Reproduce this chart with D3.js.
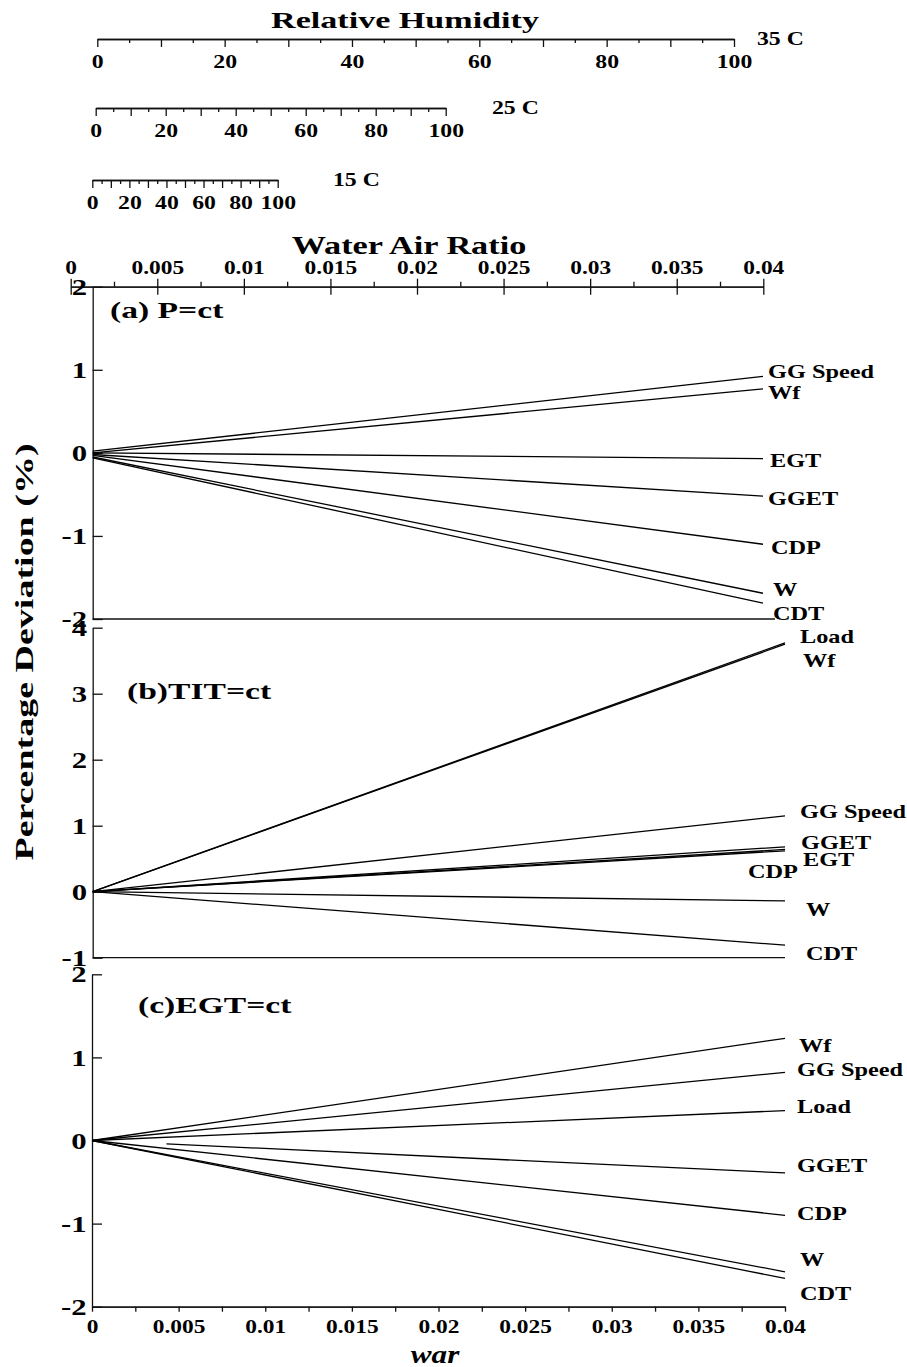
<!DOCTYPE html>
<html>
<head>
<meta charset="utf-8">
<script src="https://cdn.jsdelivr.net/npm/d3@7"></script>
<style>
body { margin: 0; background: #fff; }
svg text { font-family: "Liberation Serif", "Times New Roman", serif; font-weight: bold; fill: #000; }
</style>
</head>
<body>
<svg></svg>
<script>
// ---- data ----
const warTicks = [0, 0.005, 0.01, 0.015, 0.02, 0.025, 0.03, 0.035, 0.04];
const warLabels = ['0', '0.005', '0.01', '0.015', '0.02', '0.025', '0.03', '0.035', '0.04'];
const warMinor = [0.0025, 0.0075, 0.0125, 0.0175, 0.0225, 0.0275, 0.0325, 0.0375];
const warEnd = 0.04;

const rhTemps = ['35 C', '25 C', '15 C'];
const rhLabels = [0, 20, 40, 60, 80, 100];
const rhMajor = [0, 10, 20, 30, 40, 50, 60, 70, 80, 90, 100];
const rhMinor = [5, 15, 25, 35, 45, 55, 65, 75, 85, 95];

// (a) P=ct
const namesA = ['GG Speed', 'Wf', 'EGT', 'GGET', 'CDP', 'W', 'CDT'];
const startA = [0.02, 0, 0, -0.02, -0.03, -0.05, -0.06];
const endA = [0.92, 0.77, -0.07, -0.52, -1.10, -1.69, -1.81];

// (b) TIT=ct
const namesB = ['Load', 'Wf', 'GG Speed', 'GGET', 'EGT', 'CDP', 'W', 'CDT'];
const startB = [0, 0, 0, 0, 0, 0, 0, 0];
const endB = [3.77, 3.75, 1.15, 0.68, 0.64, 0.62, -0.14, -0.81];

// (c) EGT=ct
const namesC = ['Wf', 'GG Speed', 'Load', 'GGET', 'CDP', 'W', 'CDT'];
const startWarC = [0, 0, 0, 0.0043, 0, 0, 0];
const startC = [0, 0, 0, -0.04, 0, 0, 0];
const endC = [1.23, 0.82, 0.36, -0.39, -0.90, -1.58, -1.66];

// ---- layout ----
const svg = d3.select('svg').attr('width', 907).attr('height', 1367);
const ink = '#111';

const addText = (parent, x, y, str, size, sx, opt = {}) =>
  parent.append('text')
    .attr('transform', `translate(${x},${y}) rotate(${opt.rot || 0}) scale(${sx},1)`)
    .attr('font-size', size)
    .attr('text-anchor', opt.anchor || 'start')
    .attr('font-style', opt.italic ? 'italic' : null)
    .text(str);

const styleAxis = g => {
  g.selectAll('path, line').attr('stroke', ink).attr('stroke-width', 1.3);
  g.selectAll('text').attr('fill', '#000');
};

// ---- relative humidity scales at top ----
addText(svg, 405, 28, 'Relative Humidity', 24, 1.42, {anchor: 'middle'});

const rhAxes = [
  {range: [97.3, 734], y: 39, tx: 757},
  {range: [95.7, 445.7], y: 108, tx: 492},
  {range: [92.3, 277.7], y: 180, tx: 333}
];
rhAxes.forEach((a, i) => {
  const s = d3.scaleLinear().domain([0, 100]).range(a.range);
  const g = svg.append('g').attr('transform', `translate(0,${a.y})`);
  g.append('g').call(d3.axisBottom(s).tickValues(rhMinor).tickSize(4).tickSizeOuter(0).tickFormat(''))
    .call(styleAxis);
  g.append('g').call(d3.axisBottom(s).tickValues(rhMajor).tickSize(8).tickSizeOuter(0).tickPadding(8)
      .tickFormat(d => rhLabels.includes(d) ? d : ''))
    .call(styleAxis)
    .selectAll('text').attr('font-size', 18).attr('transform', 'scale(1.32,1)');
  addText(svg, a.tx, a.y + 6, rhTemps[i], 18, 1.32);
});

// ---- water air ratio axis (top of panel a) ----
addText(svg, 409, 254, 'Water Air Ratio', 25, 1.37, {anchor: 'middle'});
const xTop = d3.scaleLinear().domain([0, warEnd]).range([70.7, 763.3]);
const topG = svg.append('g').attr('transform', 'translate(0,286.7)');
topG.append('g').call(d3.axisTop(xTop).tickValues(warMinor).tickSize(5).tickSizeOuter(0).tickFormat(''))
  .call(styleAxis);
topG.append('g').call(d3.axisTop(xTop).tickValues(warTicks).tickSize(8).tickSizeOuter(0).tickPadding(5)
    .tickFormat((d, i) => warLabels[i]))
  .call(styleAxis)
  .call(g => g.selectAll('.tick line').attr('y1', 8).attr('y2', -8))
  .selectAll('text').attr('font-size', 18).attr('transform', 'scale(1.3,1)');

// ---- the three panels ----
const panels = [
  {names: namesA, start: startA, end: endA, startWar: namesA.map(() => 0),
   x: [92.7, 763], y: [619, 286.7], dom: [-2, 2], bottomTo: 775,
   title: '(a) P=ct', tx: 110, ty: 318,
   lab: [[5, -5], [5, 4], [7, 2], [5, 3], [8, 3], [10, -4], [10, 10]]},
  {names: namesB, start: startB, end: endB, startWar: namesB.map(() => 0),
   x: [92.7, 785], y: [957.7, 627.7], dom: [-1, 4], bottomTo: 785,
   title: '(b)TIT=ct', tx: 127, ty: 699,
   lab: [[15, -6], [18, 16], [15, -4], [16, -4], [18, 10], [-37, 21], [21, 9], [21, 9]]},
  {names: namesC, start: startC, end: endC, startWar: startWarC,
   x: [92, 785], y: [1306.7, 974.3], dom: [-2, 2], bottomTo: null,
   title: '(c)EGT=ct', tx: 138, ty: 1013,
   lab: [[14, 7], [12, -3], [12, -4], [12, -7], [12, -2], [15, -12], [15, 15]]}
];

panels.forEach(p => {
  const x = d3.scaleLinear().domain([0, warEnd]).range(p.x);
  const y = d3.scaleLinear().domain(p.dom).range(p.y);
  const g = svg.append('g');

  // left axis with inward ticks
  g.append('g').attr('transform', `translate(${p.x[0]},0)`)
    .call(d3.axisLeft(y).tickValues(d3.range(p.dom[0], p.dom[1] + 1))
      .tickFormat(d => String(d)).tickSize(-10).tickSizeOuter(0).tickPadding(4))
    .call(styleAxis)
    .selectAll('text').attr('font-size', 24).attr('x', -4.3).attr('transform', 'scale(1.28,1)');

  // bottom frame line
  if (p.bottomTo) {
    g.append('line')
      .attr('x1', p.x[0]).attr('x2', p.bottomTo)
      .attr('y1', y(p.dom[0])).attr('y2', y(p.dom[0]))
      .attr('stroke', ink).attr('stroke-width', 1.3);
  }

  // series lines
  const line = d3.line().x(d => x(d[0])).y(d => y(d[1]));
  p.names.forEach((name, i) => {
    const pts = [[p.startWar[i], p.start[i]], [warEnd, p.end[i]]];
    g.append('path').attr('d', line(pts))
      .attr('fill', 'none').attr('stroke', '#000').attr('stroke-width', 1.3);
    addText(g, x(warEnd) + p.lab[i][0], y(p.end[i]) + p.lab[i][1] + 6.3, name, 19, 1.28);
  });

  addText(g, p.tx, p.ty, p.title, 24, 1.4);
});

// bottom war axis of panel c
const xC = d3.scaleLinear().domain([0, warEnd]).range([92, 785]);
const botG = svg.append('g').attr('transform', 'translate(0,1306.7)');
botG.append('g').call(d3.axisBottom(xC).tickValues(warMinor).tickSize(5).tickSizeOuter(0).tickFormat(''))
  .call(styleAxis);
botG.append('g').call(d3.axisBottom(xC).tickValues(warTicks).tickSize(5).tickSizeOuter(0).tickPadding(9)
    .tickFormat((d, i) => warLabels[i]))
  .call(styleAxis)
  .selectAll('text').attr('font-size', 18).attr('transform', 'scale(1.3,1)');

addText(svg, 435, 1363, 'war', 26, 1.2, {anchor: 'middle', italic: true});

// y axis title
addText(svg, 33, 652, 'Percentage Deviation (%)', 25, 1.52, {anchor: 'middle', rot: -90});
</script>
</body>
</html>
